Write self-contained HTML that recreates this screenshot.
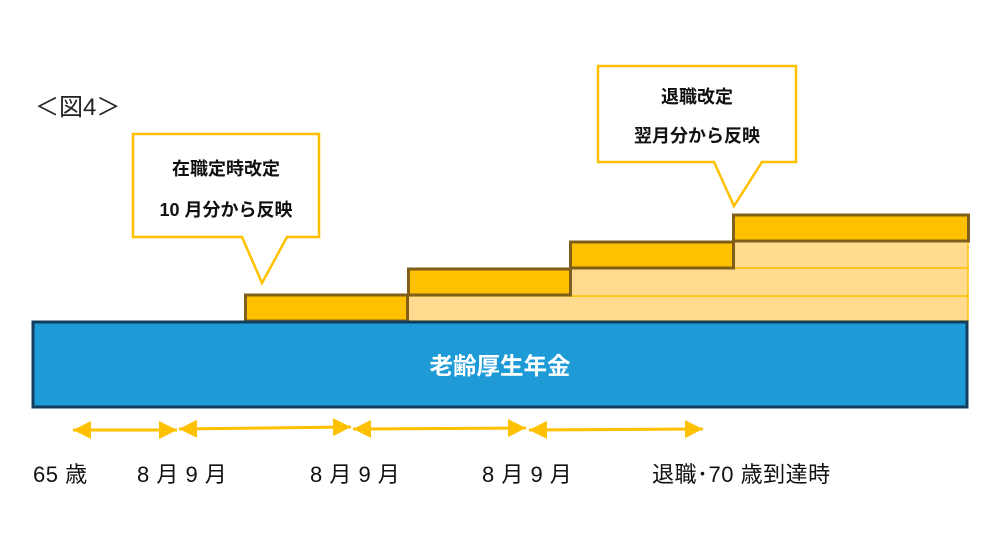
<!DOCTYPE html>
<html><head><meta charset="utf-8"><style>
html,body{margin:0;padding:0;background:#fff;}
svg{display:block;}
text{font-family:"Liberation Sans","Noto Sans CJK JP",sans-serif;}
</style></head><body>
<svg width="1000" height="550" viewBox="0 0 1000 550" xmlns="http://www.w3.org/2000/svg">
<defs>
<marker id="ah" viewBox="0 0 10 10" refX="10" refY="5" markerWidth="6" markerHeight="6" orient="auto-start-reverse" markerUnits="strokeWidth">
<path d="M0,0 L10,5 L0,10 z" fill="#ffc000"/></marker>
</defs>
<text x="35" y="115" font-size="24" fill="#222">＜図4＞</text>
<rect x="408" y="296" width="560" height="25" fill="#ffdb90" stroke="#ffc000" stroke-width="1.5"/>
<rect x="570" y="268" width="398" height="28" fill="#ffdb90" stroke="#ffc000" stroke-width="1.5"/>
<rect x="733" y="241" width="235" height="27" fill="#ffdb90" stroke="#ffc000" stroke-width="1.5"/>
<rect x="245.5" y="295" width="162" height="26" fill="#ffc000" stroke="#7f5f1a" stroke-width="3"/>
<rect x="408.5" y="269" width="162" height="26" fill="#ffc000" stroke="#7f5f1a" stroke-width="3"/>
<rect x="570.5" y="242" width="163" height="26" fill="#ffc000" stroke="#7f5f1a" stroke-width="3"/>
<rect x="733.5" y="215" width="235" height="26" fill="#ffc000" stroke="#7f5f1a" stroke-width="3"/>
<rect x="33" y="322" width="934" height="85" fill="#1e9bd7" stroke="#123d5c" stroke-width="3"/>
<text x="500" y="374" font-size="23.5" font-weight="bold" fill="#fff" text-anchor="middle">老齢厚生年金</text>
<path d="M133,134 H319 V237 H287 L262,283 L242,237 H133 Z" fill="#fff" stroke="#ffc000" stroke-width="2.5"/>
<text x="226" y="175" font-size="18" font-weight="bold" fill="#111" text-anchor="middle">在職定時改定</text>
<text x="226" y="216" font-size="18" font-weight="bold" fill="#111" text-anchor="middle">10 月分から反映</text>
<path d="M598,66 H796 V162 H762 L734,206 L714,162 H598 Z" fill="#fff" stroke="#ffc000" stroke-width="2.5"/>
<text x="697" y="103" font-size="18" font-weight="bold" fill="#111" text-anchor="middle">退職改定</text>
<text x="697" y="142" font-size="18" font-weight="bold" fill="#111" text-anchor="middle">翌月分から反映</text>
<g stroke="#ffc000" stroke-width="3" fill="none">
<line x1="73" y1="430" x2="177" y2="430" marker-start="url(#ah)" marker-end="url(#ah)"/>
<line x1="179" y1="429" x2="351" y2="427" marker-start="url(#ah)" marker-end="url(#ah)"/>
<line x1="353" y1="429" x2="526" y2="428" marker-start="url(#ah)" marker-end="url(#ah)"/>
<line x1="529" y1="430" x2="703" y2="429" marker-start="url(#ah)" marker-end="url(#ah)"/>
</g>
<g font-size="22" fill="#111" letter-spacing="0.5">
<text x="33" y="482">65 歳</text>
<text x="137" y="482">8 月 9 月</text>
<text x="310" y="482">8 月 9 月</text>
<text x="482" y="482">8 月 9 月</text>
<text x="652" y="482">退職･70 歳到達時</text>
</g>
</svg>
</body></html>
